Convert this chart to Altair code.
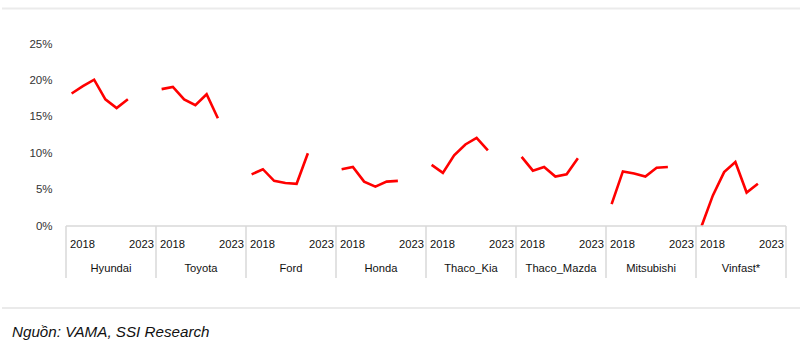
import altair as alt
import pandas as pd

brands = ["Hyundai", "Toyota", "Ford", "Honda", "Thaco_Kia", "Thaco_Mazda", "Mitsubishi", "Vinfast*"]
years = [2018, 2019, 2020, 2021, 2022, 2023]
share = {
    "Hyundai":     [18.2, 19.2, 20.1, 17.4, 16.2, 17.4],
    "Toyota":      [18.8, 19.1, 17.4, 16.6, 18.1, 14.8],
    "Ford":        [7.1, 7.8, 6.2, 5.9, 5.8, 10.0],
    "Honda":       [7.8, 8.1, 6.1, 5.4, 6.1, 6.2],
    "Thaco_Kia":   [8.4, 7.3, 9.7, 11.2, 12.1, 10.4],
    "Thaco_Mazda": [9.5, 7.6, 8.1, 6.8, 7.1, 9.3],
    "Mitsubishi":  [3.0, 7.5, 7.2, 6.8, 8.0, 8.1],
    "Vinfast*":    [0.0, 4.2, 7.4, 8.8, 4.6, 5.8],
}
y_ticks = [0, 5, 10, 15, 20, 25]
source_text = "Nguồn: VAMA, SSI Research"

SLOTS = 8  # category slots per brand group
rows = []
for g, b in enumerate(brands):
    for i, (yr, v) in enumerate(zip(years, share[b])):
        rows.append({"brand": b, "year": yr, "pos": g * SLOTS + i + 0.5, "value": v})
df = pd.DataFrame(rows)

groups = pd.DataFrame({
    "brand": brands,
    "start": [g * SLOTS for g in range(len(brands))],
    "end": [(g + 1) * SLOTS for g in range(len(brands))],
    "mid": [g * SLOTS + SLOTS / 2 for g in range(len(brands))],
    "first": [str(years[0])] * len(brands),
    "last": [str(years[-1])] * len(brands),
})
bounds = pd.DataFrame({"b": [g * SLOTS for g in range(len(brands) + 1)]})
one = pd.DataFrame({"k": [0]})

W, H = 720, 182
xs = alt.Scale(domain=[0, SLOTS * len(brands)], nice=False, zero=False)
ys = alt.Scale(domain=[0, 25], nice=False)

FONT = "Liberation Sans, Arial, sans-serif"
GRAY = "#d9d9d9"
TXT = "#111111"

lines = alt.Chart(df).mark_line(color="#ff0000", strokeWidth=2.6).encode(
    x=alt.X("pos:Q", scale=xs, axis=None),
    y=alt.Y("value:Q", scale=ys, axis=alt.Axis(
        values=y_ticks, labelExpr="datum.value + '%'", title=None,
        domain=False, ticks=False, grid=False, labelPadding=14,
        labelFont="Liberation Sans", labelFontSize=11.5, labelColor="#333333")),
    detail="brand:N",
)

axis_line = alt.Chart(one).mark_rule(color=GRAY, strokeWidth=1.5).encode(
    x=alt.value(0), x2=alt.value(W), y=alt.value(H))

seps = alt.Chart(bounds).mark_rule(color=GRAY, strokeWidth=1.5).encode(
    x=alt.X("b:Q", scale=xs, axis=None), y=alt.value(H), y2=alt.value(234))

first_lbl = alt.Chart(groups).mark_text(
    align="left", baseline="middle", dx=4, font=FONT, fontSize=11.2, color=TXT
).encode(x=alt.X("start:Q", scale=xs, axis=None), y=alt.value(201), text="first:N")

last_lbl = alt.Chart(groups).mark_text(
    align="right", baseline="middle", dx=-2, font=FONT, fontSize=11.2, color=TXT
).encode(x=alt.X("end:Q", scale=xs, axis=None), y=alt.value(201), text="last:N")

brand_lbl = alt.Chart(groups).mark_text(
    align="center", baseline="middle", font=FONT, fontSize=11.2, color=TXT
).encode(x=alt.X("mid:Q", scale=xs, axis=None), y=alt.value(225), text="brand:N")

top_line = alt.Chart(one).mark_rule(color="#ebebeb", strokeWidth=2).encode(
    x=alt.value(-64), x2=alt.value(734), y=alt.value(-35.5))

bottom_line = alt.Chart(one).mark_rule(color="#e3e3e3", strokeWidth=1.5).encode(
    x=alt.value(-64), x2=alt.value(734), y=alt.value(264))

src = alt.Chart(pd.DataFrame({"t": [source_text]})).mark_text(
    align="left", baseline="middle", font=FONT, fontSize=15.2, fontStyle="italic", color=TXT
).encode(x=alt.value(-54), y=alt.value(288), text="t:N")

chart = alt.layer(
    lines, top_line, bottom_line, axis_line, seps, first_lbl, last_lbl, brand_lbl, src
).properties(
    width=W, height=H,
    autosize=alt.AutoSizeParams(type="none"),
    padding={"left": 66, "top": 44, "right": 14, "bottom": 128},
    background="white",
).configure_view(stroke=None)

chart.save("out.html", embed_options={"renderer": "svg", "actions": False})
